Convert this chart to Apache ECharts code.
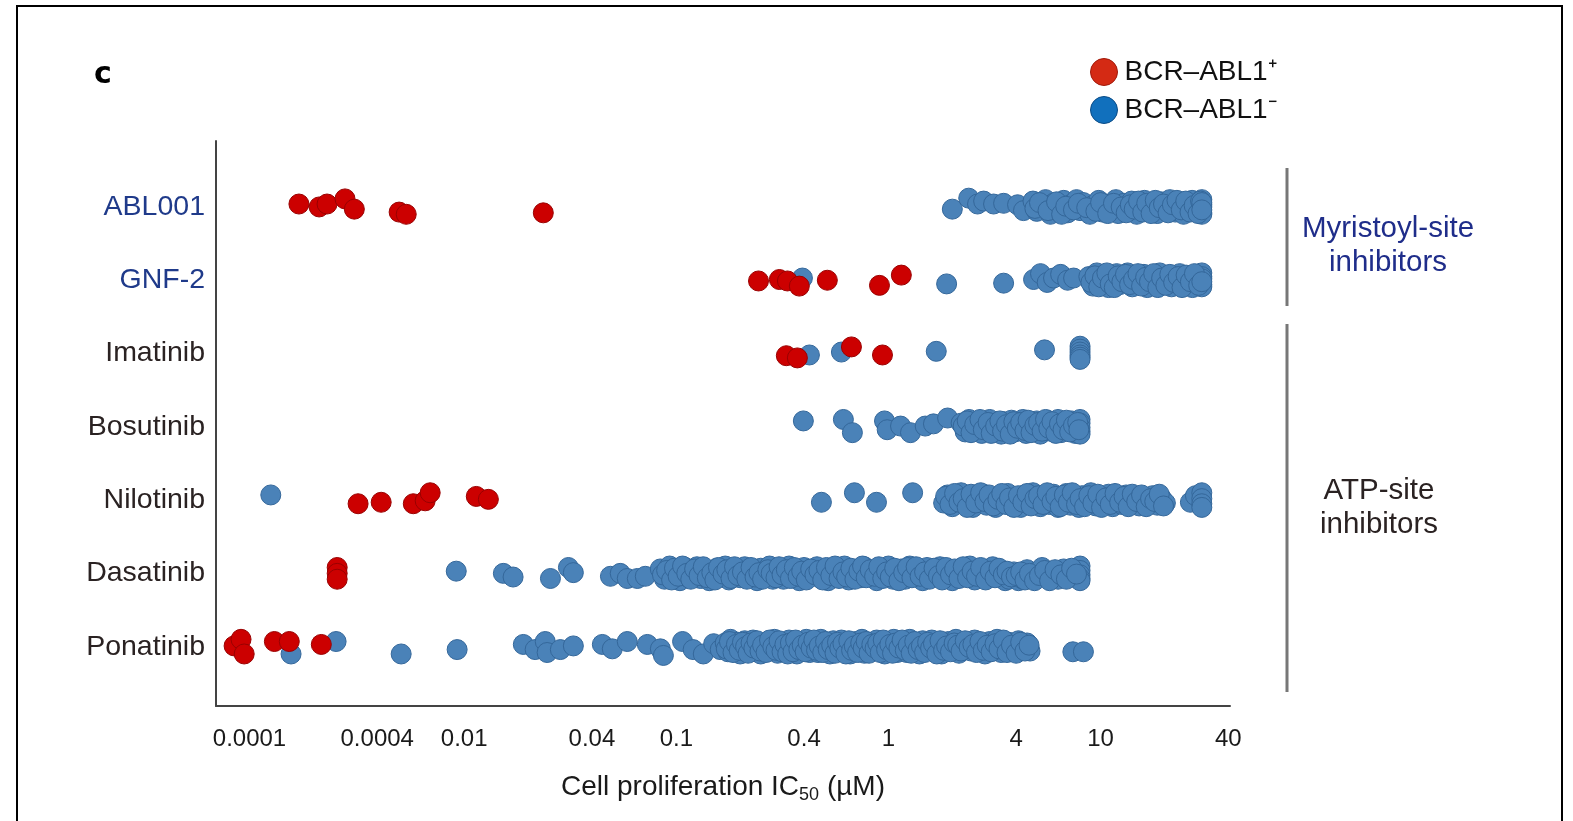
<!DOCTYPE html>
<html lang="en">
<head>
<meta charset="UTF-8">
<title>Cell proliferation IC50</title>
<script src="https://cdn.jsdelivr.net/npm/echarts@6.0.0/dist/echarts.min.js"></script>
<style>
    body { margin: 0; background: #fff; }
    #chart { width: 1573px; height: 821px; }
</style>
</head>
<body>
<div id="chart"></div>
<script>
// rows, bottom (0) to top (6)
const drugs = ['Ponatinib', 'Dasatinib', 'Nilotinib', 'Bosutinib', 'Imatinib', 'GNF-2', 'ABL001'];
const myristoylDrugs = ['ABL001', 'GNF-2'];

// x tick labels (IC50, µM)
const tickValues = [0.0001, 0.0004, 0.01, 0.04, 0.1, 0.4, 1, 4, 10, 40];
const tickLabels = ['0.0001', '0.0004', '0.01', '0.04', '0.1', '0.4', '1', '4', '10', '40'];

// each point: [IC50 in µM, vertical jitter in row units]
const abl001Pos = [[0.000171, .04], [0.000213, 0], [0.000232, .04], [0.000282, .11], [0.000312, -.03],
    [0.0009, -.07], [0.00117, -.1], [0.0236, -.08]];
const abl001Neg = [[2.0, -.03], [2.39, .12], [2.63, .04], [2.81, .08], [3.13, .04], [3.49, .05], [4.06, .03], [4.33, -.05],
    [4.8, .08], [5.0, -.06], [5.3, .02], [5.5, .1], [5.8, -.1], [6.0, .05], [6.4, -.03], [6.7, .09], [7.0, -.08], [7.2, .03],
    [7.7, .1], [8.0, -.05], [8.3, .06], [8.9, -.1], [9.2, .02], [9.8, .09], [10.2, -.07], [10.5, .04], [11.2, -.02], [11.8, .1],
    [12.1, -.09], [12.9, .05], [13.5, -.04], [14.0, .08], [14.8, -.1], [15.5, .02], [16.1, .09], [16.9, -.06], [17.8, .04],
    [18.5, -.09], [19.3, .07], [20.4, -.02], [21.2, .1], [22.5, -.07], [23.4, .05], [24.6, -.1], [25.8, .03], [27.0, .09],
    [28.3, -.05], [29.2, .06], [30, -.08], [30, .03], [30, .1], [30, -.1], [30, 0],
    [4.9, -.02], [5.15, .06], [5.65, -.05], [6.2, .07], [6.55, -.1], [6.85, .01], [7.45, -.04], [7.85, .05], [8.6, -.01],
    [9.5, -.06], [10.0, .06], [10.8, -.09], [11.5, .05], [12.5, 0], [13.2, -.08], [13.8, .03], [14.4, -.03], [15.1, .08],
    [15.8, -.07], [16.5, .05], [17.3, -.09], [18.1, .09], [18.9, -.01], [19.8, .04], [20.8, -.08], [21.8, .03], [22.9, .09],
    [24.0, -.04], [25.2, .08], [26.4, -.07], [27.6, .02], [28.8, -.09], [29.6, .08], [30, .06], [30, -.04]];

const gnf2Pos = [[0.244, -.01], [0.306, .01], [0.334, -.01], [0.38, -.08], [0.515, 0], [0.907, -.07], [1.15, .07]];
const gnf2Neg = [[0.393, .03], [1.88, -.05], [3.49, -.04], [4.83, .01], [5.21, .09], [5.6, -.03], [6.0, .03], [6.48, .08],
    [6.99, 0], [7.46, .03], [8.8, .05], [9.2, -.08], [9.6, .1], [10.0, -.02], [10.4, .07], [10.9, -.1], [11.4, .03], [11.9, .09],
    [12.3, -.06], [12.9, .02], [13.4, .1], [14.1, -.09], [14.6, .05], [15.3, -.03], [16.0, .08], [16.6, -.1], [17.4, .04],
    [18.2, -.06], [19.0, .1], [19.9, -.04], [20.8, .06], [21.6, -.09], [22.7, .02], [23.6, .09], [24.8, -.07], [25.9, .04],
    [27.1, -.1], [28.4, .07], [29.3, -.03], [30, .1], [30, -.06], [30, .05], [30, -.09], [30, .02],
    [9.0, -.03], [9.4, .06], [9.8, -.09], [10.2, .03], [10.7, .1], [11.1, -.05], [11.6, -.1], [12.1, .06], [12.6, -.02],
    [13.1, .08], [13.7, -.06], [14.3, .01], [15.0, .09], [15.6, -.08], [16.3, .04], [17.0, -.02], [17.8, .09], [18.6, -.1],
    [19.4, .03], [20.3, -.07], [21.2, .08], [22.1, -.03], [23.2, .05], [24.2, -.1], [25.3, .07], [26.5, -.02], [27.7, .09],
    [29.0, -.07], [30, -.02]];

const imatinibPos = [[0.33, -.03], [0.372, -.06], [0.669, .09], [0.937, -.02]];
const imatinibNeg = [[0.424, -.02], [0.6, .02], [1.68, .03], [5.44, .05],
    [8, .1], [8, .06], [8, .02], [8, -.02], [8, -.05], [8, -.08]];

const bosutinibPos = [];
const bosutinibNeg = [[0.397, .08], [0.613, .1], [0.676, -.08], [0.958, .08], [0.986, -.04], [1.14, .01], [1.27, -.08],
    [1.49, .01], [1.63, .04], [1.9, .12], [2.2, .05], [2.3, -.07], [2.4, .1], [2.5, -.02], [2.6, .06], [2.75, -.09], [2.85, .03],
    [3.0, .1], [3.1, -.05], [3.25, .04], [3.4, -.1], [3.5, .07], [3.65, -.03], [3.8, .09], [3.95, -.07], [4.1, .02], [4.3, .1],
    [4.45, -.09], [4.6, .05], [4.8, -.03], [5.0, .08], [5.2, -.1], [5.4, .03], [5.6, .09], [5.8, -.06], [6.0, .01], [6.3, .1],
    [6.5, -.08], [6.8, .05], [7.0, -.02], [7.3, .08], [7.6, -.09], [8, .1], [8, .05], [8, -.01], [8, -.06], [8, -.1],
    [2.25, .01], [2.35, .08], [2.45, -.08], [2.55, .03], [2.7, .1], [2.8, -.04], [2.95, .06], [3.05, -.09], [3.2, .01],
    [3.35, .08], [3.45, -.06], [3.6, .03], [3.75, -.1], [3.9, .07], [4.05, -.02], [4.2, .06], [4.4, -.05], [4.55, .09],
    [4.7, -.08], [4.9, .02], [5.1, .06], [5.3, -.06], [5.5, .1], [5.7, -.02], [5.9, .07], [6.15, -.09], [6.4, .04],
    [6.65, -.04], [6.9, .09], [7.15, -.07], [7.45, .02], [7.8, .06], [7.9, -.04]];

const nilotinibPos = [[0.000325, -.05], [0.000463, -.03], [0.00152, -.05], [0.00236, -.01], [0.00284, .1],
    [0.0114, .05], [0.013, .01]];
const nilotinibNeg = [[0.000126, .07], [0.483, -.03], [0.691, .1], [0.878, -.03], [1.3, .1],
    [1.82, -.04], [1.9, .07], [2.0, -.09], [2.1, .03], [2.2, .1], [2.3, -.06], [2.4, .05], [2.5, -.1], [2.65, .02], [2.8, .08],
    [2.9, -.07], [3.05, .04], [3.2, -.1], [3.35, .06], [3.5, -.03], [3.65, .09], [3.8, -.08], [4.0, .01], [4.2, -.1], [4.4, .07],
    [4.6, -.05], [4.8, .1], [5.0, -.02], [5.2, -.09], [5.5, .05], [5.75, -.06], [6.0, .08], [6.3, -.1], [6.6, .02], [6.9, .09],
    [7.2, -.07], [7.5, .04], [7.9, -.1], [8.2, .06], [8.6, -.03], [9.0, .1], [9.5, -.08], [9.9, .03], [10.4, -.05], [10.9, .08],
    [11.4, -.09], [12.0, .02], [12.6, -.06], [13.2, .07], [13.8, -.02], [14.5, .05], [15.2, -.08], [16.0, .03], [16.8, -.05],
    [17.6, .06], [18.5, -.07], [19.4, .02], [20.2, -.04],
    [26.5, -.03], [28, .06], [30, .1], [30, .02], [30, -.05], [30, -.1],
    [1.86, .05], [1.95, -.06], [2.05, .09], [2.15, -.03], [2.25, .02], [2.35, -.1], [2.45, .08], [2.58, -.04], [2.72, .1],
    [2.85, -.02], [2.98, .07], [3.12, -.08], [3.28, .01], [3.42, .09], [3.58, -.06], [3.72, .03], [3.9, -.1], [4.1, .06],
    [4.3, -.03], [4.5, .09], [4.7, -.08], [4.9, .02], [5.1, .06], [5.35, -.06], [5.6, .1], [5.9, -.02], [6.15, .05],
    [6.45, -.09], [6.75, .07], [7.05, -.03], [7.35, .1], [7.7, -.06], [8.0, .02], [8.4, -.09], [8.8, .06], [9.2, -.04],
    [9.7, .08], [10.1, -.1], [10.6, .03], [11.1, -.06], [11.7, .09], [12.3, -.03], [12.9, .05], [13.5, -.09], [14.1, .08],
    [14.8, -.02], [15.6, .07], [16.4, -.09], [17.2, .02], [18.0, -.02], [18.9, .08], [19.8, -.08]];

const dasatinibPos = [[0.000259, .08], [0.000259, 0], [0.000259, -.08]];
const dasatinibNeg = [[0.00745, .03], [0.0153, 0], [0.017, -.05], [0.0255, -.07], [0.031, .08], [0.0327, .01], [0.0489, -.04],
    [0.0544, 0], [0.0587, -.07], [0.0655, -.07], [0.0714, -.04],
    [0.084, .06], [0.088, -.08], [0.093, .1], [0.096, -.02], [0.10, .04], [0.104, -.1], [0.11, .08], [0.113, -.05], [0.12, .02],
    [0.125, .09], [0.13, -.07], [0.137, .05], [0.143, -.1], [0.15, .03], [0.155, .07], [0.162, -.04], [0.17, .1], [0.177, -.09],
    [0.185, 0], [0.19, .06], [0.2, -.06], [0.21, .09], [0.22, -.03], [0.23, .04], [0.24, -.1], [0.25, .07], [0.26, -.01],
    [0.275, .1], [0.285, -.08], [0.3, .03], [0.31, .06], [0.32, -.08], [0.34, .1], [0.35, -.02], [0.37, .04], [0.38, -.1],
    [0.4, .08], [0.42, -.05], [0.44, .02], [0.46, .09], [0.48, -.07], [0.5, .05], [0.52, -.1], [0.55, .03], [0.57, .07],
    [0.6, -.04], [0.62, .1], [0.65, -.09], [0.68, 0], [0.71, .06], [0.74, -.06], [0.77, .09], [0.8, -.03], [0.84, .04],
    [0.88, -.1], [0.92, .07], [0.96, -.01], [1.0, .1], [1.05, -.08], [1.1, .03], [1.15, .06], [1.2, -.08], [1.26, .1],
    [1.32, -.02], [1.38, .04], [1.45, -.1], [1.52, .08], [1.6, -.05], [1.68, .02], [1.75, .09], [1.83, -.07], [1.92, .05],
    [2.0, -.1], [2.1, .03], [2.2, .07], [2.3, -.04], [2.42, .1], [2.55, -.09], [2.65, 0], [2.8, .06], [2.95, -.06], [3.1, .09],
    [3.25, -.03], [3.4, .04], [3.55, -.1], [3.7, -.08], [3.9, .02], [4.1, -.1], [4.3, -.08], [4.5, .05], [4.75, -.06],
    [5.0, .02], [5.3, .08], [5.6, -.05], [5.9, .03], [6.3, -.08], [6.7, .06], [7.1, .01], [7.5, -.05],
    [8, .1], [8, .04], [8, -.02], [8, -.07], [8, -.1],
    [0.086, -.02], [0.09, .04], [0.095, -.09], [0.098, .07], [0.102, -.04], [0.107, .1], [0.112, 0], [0.117, -.08],
    [0.122, .06], [0.128, -.03], [0.134, .09], [0.14, -.06], [0.147, .01], [0.152, -.09], [0.158, .08], [0.166, -.01],
    [0.173, .05], [0.181, -.07], [0.188, .09], [0.195, -.03], [0.205, .02], [0.215, -.08], [0.225, .08], [0.235, -.05],
    [0.245, .01], [0.255, -.08], [0.27, .05], [0.28, 0], [0.295, -.06], [0.305, .09], [0.315, -.02], [0.33, .05],
    [0.345, -.07], [0.36, .08], [0.375, -.04], [0.39, .03], [0.41, -.09], [0.43, .06], [0.45, -.02], [0.47, .04],
    [0.49, -.09], [0.51, .08], [0.535, -.03], [0.56, .1], [0.585, -.07], [0.61, .02], [0.635, -.05], [0.665, .07],
    [0.695, -.08], [0.725, .03], [0.755, .1], [0.785, -.06], [0.82, .05], [0.86, -.04], [0.9, .09], [0.94, -.07], [0.98, .02],
    [1.02, -.05], [1.07, .07], [1.12, -.1], [1.18, .01], [1.23, .08], [1.29, -.06], [1.35, .09], [1.41, -.04], [1.48, .02],
    [1.56, -.08], [1.64, .07], [1.72, -.03], [1.79, -.09], [1.87, .08], [1.96, -.02], [2.05, .06], [2.15, -.07], [2.25, .09],
    [2.36, -.06], [2.48, .03], [2.6, -.04], [2.72, .08], [2.87, -.09], [3.02, .03], [3.18, -.06], [3.32, .07], [3.48, -.02],
    [3.62, .03], [3.8, -.05], [4.0, -.03], [4.2, .02], [4.4, -.09], [4.62, 0], [4.88, -.1], [5.15, -.03], [5.45, .04],
    [5.75, -.1], [6.1, .05], [6.5, -.02], [6.9, -.08], [7.3, .07], [7.7, -.01]];

const ponatinibPos = [[0.0000846, .01], [0.0000912, .1], [0.0000944, -.1], [0.000131, .07], [0.000154, .07], [0.000218, .03]];
const ponatinibNeg = [[0.000157, -.1], [0.000256, .07], [0.00097, -.1], [0.0077, -.04],
    [0.019, .03], [0.0216, -.04], [0.0241, .07], [0.0246, -.08], [0.0284, -.04], [0.0327, .01], [0.0448, .03], [0.0499, -.03],
    [0.0587, .07], [0.073, .03], [0.0841, -.03], [0.0869, -.12], [0.107, .07], [0.12, -.04], [0.134, -.1], [0.15, .04],
    [0.161, -.04],
    [0.17, .05], [0.175, -.07], [0.18, .1], [0.19, -.02], [0.195, .06], [0.2, -.1], [0.21, .08], [0.215, -.04], [0.22, .02],
    [0.23, .09], [0.235, -.07], [0.245, .05], [0.25, -.1], [0.26, .03], [0.27, .07], [0.28, -.04], [0.29, .1], [0.3, -.09],
    [0.31, 0], [0.32, .06], [0.33, -.06], [0.34, .09], [0.35, -.03], [0.36, .04], [0.37, -.1], [0.385, .07], [0.4, -.01],
    [0.41, .1], [0.425, -.08], [0.44, .03], [0.45, .06], [0.465, -.08], [0.48, .1], [0.5, -.02], [0.51, .04], [0.53, -.1],
    [0.55, .08], [0.57, -.05], [0.58, .02], [0.6, .09], [0.62, -.07], [0.64, .05], [0.66, -.1], [0.68, .03], [0.7, .07],
    [0.73, -.04], [0.75, .1], [0.77, -.09], [0.8, 0], [0.82, .06], [0.85, -.06], [0.88, .09], [0.9, -.03], [0.93, .04],
    [0.96, -.1], [1.0, .07], [1.03, -.01], [1.06, .1], [1.1, -.08], [1.14, .03], [1.18, .06], [1.22, -.08], [1.26, .1],
    [1.3, -.02], [1.35, .04], [1.4, -.1], [1.45, .08], [1.5, -.05], [1.55, .02], [1.6, .09], [1.66, -.07], [1.72, .05],
    [1.78, -.1], [1.85, .03], [1.92, .07], [2.0, -.04], [2.08, .1], [2.15, -.09], [2.25, 0], [2.35, .06], [2.45, -.06],
    [2.55, .09], [2.65, -.03], [2.75, .04], [2.85, -.1], [3.0, .07], [3.1, -.01], [3.25, .1], [3.4, -.08], [3.55, .03],
    [3.7, .06], [3.9, -.05], [4.1, .08], [4.3, -.02], [4.5, .05], [4.65, -.06], [7.4, -.07], [8.3, -.07],
    [0.172, -.03], [0.178, .07], [0.185, -.08], [0.192, .03], [0.198, -.05], [0.205, .06], [0.212, 0], [0.218, -.09],
    [0.225, .05], [0.232, -.02], [0.24, .08], [0.248, -.06], [0.255, .02], [0.265, -.08], [0.275, .09], [0.285, 0],
    [0.295, -.05], [0.305, .08], [0.315, -.07], [0.325, .03], [0.335, -.1], [0.345, .05], [0.355, -.07], [0.365, .09],
    [0.378, -.04], [0.392, .02], [0.405, -.07], [0.418, .06], [0.432, -.02], [0.445, .09], [0.458, -.05], [0.472, .01],
    [0.49, -.08], [0.505, .07], [0.52, -.04], [0.54, .02], [0.56, -.09], [0.575, .06], [0.59, -.02], [0.61, .04], [0.63, -.1],
    [0.65, .08], [0.67, -.05], [0.69, .01], [0.715, -.08], [0.74, .05], [0.76, -.02], [0.785, .07], [0.81, -.09], [0.835, .03],
    [0.865, -.02], [0.89, .05], [0.915, -.08], [0.945, .09], [0.98, -.04], [1.015, .03], [1.045, -.09], [1.08, .05],
    [1.12, -.02], [1.16, .09], [1.2, -.05], [1.24, .02], [1.28, -.09], [1.33, .07], [1.38, -.04], [1.43, .01], [1.48, -.08],
    [1.53, .06], [1.58, -.02], [1.63, .04], [1.69, -.1], [1.75, .08], [1.82, -.05], [1.88, .01], [1.96, -.07], [2.04, .05],
    [2.12, .02], [2.2, -.06], [2.3, .08], [2.4, -.01], [2.5, .03], [2.6, -.08], [2.7, .07], [2.8, -.05], [2.92, .02],
    [3.05, -.07], [3.18, .04], [3.32, -.03], [3.48, .09], [3.62, -.08], [3.8, .02], [4.0, -.09], [4.2, .06], [4.4, -.06],
    [4.6, .02]];

const positiveByRow = [ponatinibPos, dasatinibPos, nilotinibPos, bosutinibPos, imatinibPos, gnf2Pos, abl001Pos];
const negativeByRow = [ponatinibNeg, dasatinibNeg, nilotinibNeg, bosutinibNeg, imatinibNeg, gnf2Neg, abl001Neg];

// broken log axis: log10 above 0.01, log10 below 0.0004, squeezed gap in between
const LOG_LO = Math.log10(0.0004);
const POS_LO = -2.41;
function toAxis(v) {
    const l = Math.log10(v);
    if (l >= -2) return l;
    if (l <= LOG_LO) return l - LOG_LO + POS_LO;
    return POS_LO + (l - LOG_LO) / (-2 - LOG_LO) * (-2 - POS_LO);
}

function buildSeries(byRow) {
    const out = [];
    byRow.forEach((pts, row) => {
        pts.forEach(p => out.push([toAxis(p[0]), row + p[1]]));
    });
    return out;
}

const FONT = '"Liberation Sans", Arial, Helvetica, sans-serif';
const tickPos = tickValues.map(toAxis);

const chart = echarts.init(document.getElementById('chart'));

const option = {
    animation: false,
    textStyle: { fontFamily: FONT },
    grid: { left: 216, right: 343, top: 141, bottom: 115 },
    legend: {
        orient: 'vertical',
        left: 1085,
        top: 53,
        itemWidth: 27,
        itemHeight: 27,
        itemGap: 10,
        icon: 'circle',
        textStyle: { fontSize: 28, color: '#111', fontFamily: FONT, padding: [0, 0, 0, 2] },
        data: [
            { name: 'BCR–ABL1⁺', itemStyle: { color: '#d42a14', borderColor: '#a01a0a', borderWidth: 1 } },
            { name: 'BCR–ABL1⁻', itemStyle: { color: '#1170bd', borderColor: '#0b4c86', borderWidth: 1 } }
        ]
    },
    xAxis: {
        type: 'value',
        min: -3.17,
        max: 1.61,
        name: 'Cell proliferation IC{s|50} (µM)',
        nameLocation: 'middle',
        nameGap: 64,
        nameTextStyle: {
            fontSize: 28, color: '#1a1a1a', fontFamily: FONT,
            rich: { s: { fontSize: 18, color: '#1a1a1a', fontFamily: FONT, padding: [16, 0, 0, 0] } }
        },
        axisLine: { onZero: false, lineStyle: { color: '#444', width: 2 } },
        axisTick: { show: false },
        splitLine: { show: false },
        axisLabel: {
            customValues: tickPos,
            fontSize: 24,
            color: '#1a1a1a',
            margin: 21,
            formatter: function (value) {
                let best = 0;
                tickPos.forEach((t, i) => { if (Math.abs(t - value) < Math.abs(tickPos[best] - value)) best = i; });
                return tickLabels[best];
            }
        }
    },
    yAxis: {
        type: 'value',
        min: -0.81,
        max: 6.9,
        axisLine: { show: true, onZero: false, lineStyle: { color: '#444', width: 2 } },
        axisTick: { show: false },
        splitLine: { show: false },
        axisLabel: {
            customValues: [0, 1, 2, 3, 4, 5, 6],
            margin: 11,
            fontSize: 28,
            formatter: function (value) {
                const name = drugs[Math.round(value)];
                return myristoylDrugs.includes(name) ? '{m|' + name + '}' : '{a|' + name + '}';
            },
            rich: {
                m: { fontSize: 28.5, color: '#1f3a8a', fontFamily: FONT },
                a: { fontSize: 28.5, color: '#2a2222', fontFamily: FONT }
            }
        }
    },
    series: [
        {
            name: 'BCR–ABL1⁻',
            type: 'scatter',
            symbolSize: 20,
            itemStyle: { color: '#4a82b8', borderColor: '#34679a', borderWidth: 1, opacity: 1 },
            data: buildSeries(negativeByRow)
        },
        {
            name: 'BCR–ABL1⁺',
            type: 'scatter',
            symbolSize: 20,
            itemStyle: { color: '#cc0000', borderColor: '#990000', borderWidth: 1, opacity: 1 },
            data: buildSeries(positiveByRow)
        }
    ],
    graphic: [
        { type: 'rect', silent: true, shape: { x: 17, y: 6, width: 1545, height: 840 },
          style: { fill: 'none', stroke: '#000', lineWidth: 2 } },
        { type: 'text', left: 94, top: 60,
          style: { text: 'c', font: 'bold 30px "DejaVu Sans", sans-serif', fill: '#000' } },
        { type: 'line', shape: { x1: 1287, y1: 168, x2: 1287, y2: 306 }, style: { stroke: '#777', lineWidth: 3 } },
        { type: 'line', shape: { x1: 1287, y1: 324, x2: 1287, y2: 692 }, style: { stroke: '#777', lineWidth: 3 } },
        { type: 'text', x: 1388, y: 246,
          style: { text: 'Myristoyl-site\ninhibitors', font: '29.5px ' + FONT, fill: '#1f2d8a',
                   align: 'center', verticalAlign: 'middle', lineHeight: 34 } },
        { type: 'text', x: 1379, y: 508,
          style: { text: 'ATP-site\ninhibitors', font: '29.5px ' + FONT, fill: '#2a2222',
                   align: 'center', verticalAlign: 'middle', lineHeight: 34 } }
    ]
};

chart.setOption(option);
</script>
</body>
</html>
